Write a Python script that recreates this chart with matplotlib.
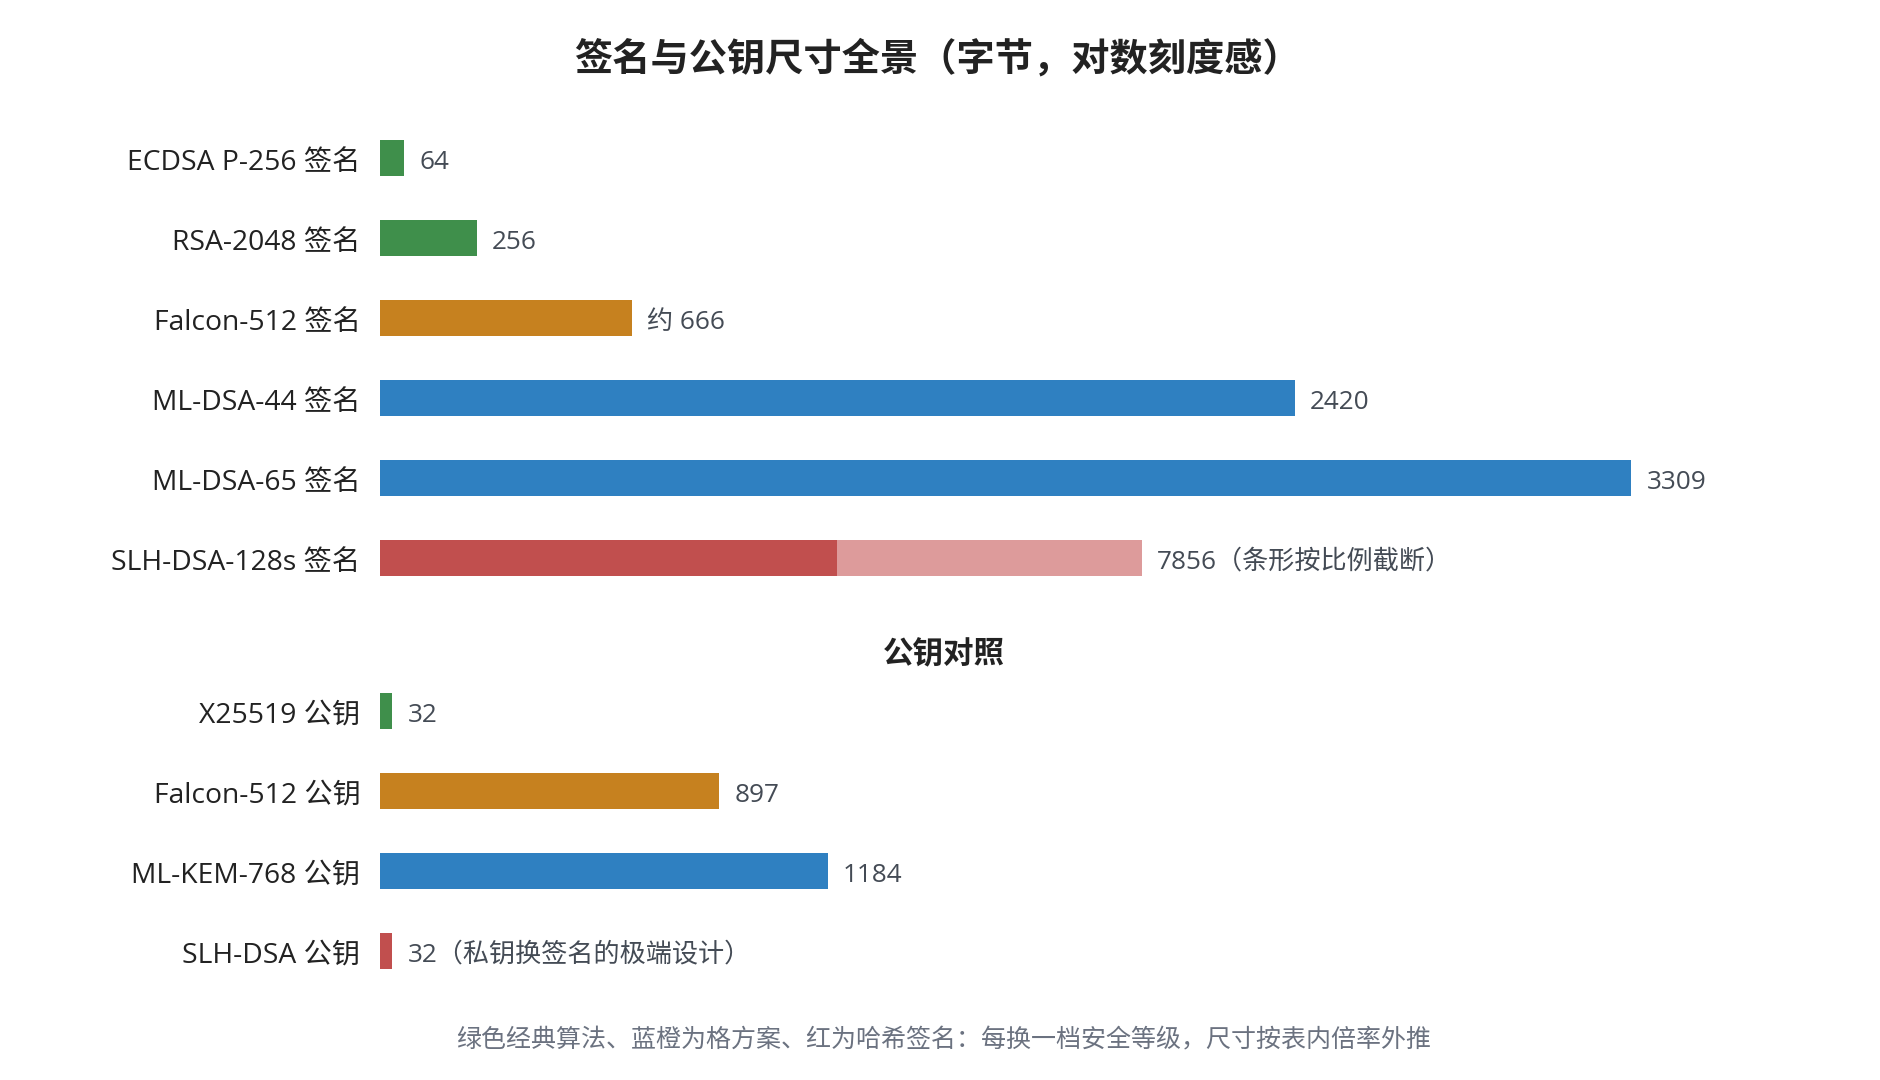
import matplotlib
matplotlib.use("Agg")
import matplotlib.pyplot as plt

plt.rcParams['font.family'] = ['Open Sans', 'Noto Sans CJK SC', 'DejaVu Sans']

# 签名尺寸（字节）
sig_names = ["ECDSA P-256 签名", "RSA-2048 签名", "Falcon-512 签名",
             "ML-DSA-44 签名", "ML-DSA-65 签名", "SLH-DSA-128s 签名"]
sig_sizes = [64, 256, 666, 2420, 3309, 7856]
sig_texts = ["64", "256", "约 666", "2420", "3309", "7856（条形按比例截断）"]
sig_kinds = ["classic", "classic", "falcon", "lattice", "lattice", "hash"]

# 超出坐标范围的条形截断显示
slh_cap = 2015
slh_solid = 0.6

# 公钥尺寸（字节）
pk_names = ["X25519 公钥", "Falcon-512 公钥", "ML-KEM-768 公钥", "SLH-DSA 公钥"]
pk_sizes = [32, 897, 1184, 32]
pk_texts = ["32", "897", "1184", "32（私钥换签名的极端设计）"]
pk_kinds = ["classic", "falcon", "lattice", "hash"]

colors = {"classic": "#3f8f4b", "falcon": "#c6811f",
          "lattice": "#2f80c1", "hash": "#c14f4e"}
light_red = "#dd9b9b"

W, H = 1880, 1080
fig = plt.figure(figsize=(W / 100, H / 100), dpi=100)
XMAX = 1400 * 2.645


def px_axes(left, top, right, bottom):
    return fig.add_axes([left / W, 1 - bottom / H, (right - left) / W, (bottom - top) / H])


def style(ax, names):
    ax.set_xlim(0, XMAX)
    ax.set_ylim(len(names) - 0.5, -0.5)
    ax.set_xticks([])
    ax.set_yticks([])
    for s in ax.spines.values():
        s.set_visible(False)
    # 类别名称
    for i, n in enumerate(names):
        ax.annotate(n, xy=(0, i), xytext=(-14, -3.5), textcoords="offset points",
                    va="center", ha="right", fontsize=20.3, color="#222222")


def label(ax, x, y, txt):
    ax.annotate(txt, xy=(x, y), xytext=(11, -3), textcoords="offset points",
                va="center", ha="left", fontsize=18.8, color="#444b55")


# 签名部分
ax1 = px_axes(380, 118, 1780, 598)
style(ax1, sig_names)
for i, (v, t, k) in enumerate(zip(sig_sizes, sig_texts, sig_kinds)):
    if v > XMAX:
        ax1.barh(i, slh_cap * slh_solid, height=0.45, color=colors[k])
        ax1.barh(i, slh_cap * (1 - slh_solid), left=slh_cap * slh_solid,
                 height=0.45, color=light_red)
        label(ax1, slh_cap, i, t)
    else:
        ax1.barh(i, v, height=0.45, color=colors[k])
        label(ax1, v, i, t)

# 公钥部分
ax2 = px_axes(380, 671, 1780, 991)
style(ax2, pk_names)
for i, (v, t, k) in enumerate(zip(pk_sizes, pk_texts, pk_kinds)):
    ax2.barh(i, v, height=0.45, color=colors[k])
    label(ax2, v, i, t)

fig.text(0.4985, 1 - 60 / H, "签名与公钥尺寸全景（字节，对数刻度感）",
         ha="center", va="center", fontsize=27.5, fontweight="bold", color="#222222")
fig.text(0.502, 1 - 655 / H, "公钥对照", ha="center", va="center",
         fontsize=22, fontweight="bold", color="#222222")
fig.text(0.502, 1 - 1041 / H,
         "绿色经典算法、蓝橙为格方案、红为哈希签名：每换一档安全等级，尺寸按表内倍率外推",
         ha="center", va="center", fontsize=18, color="#6b7280")

fig.savefig("out.png", dpi=100, facecolor="white")
